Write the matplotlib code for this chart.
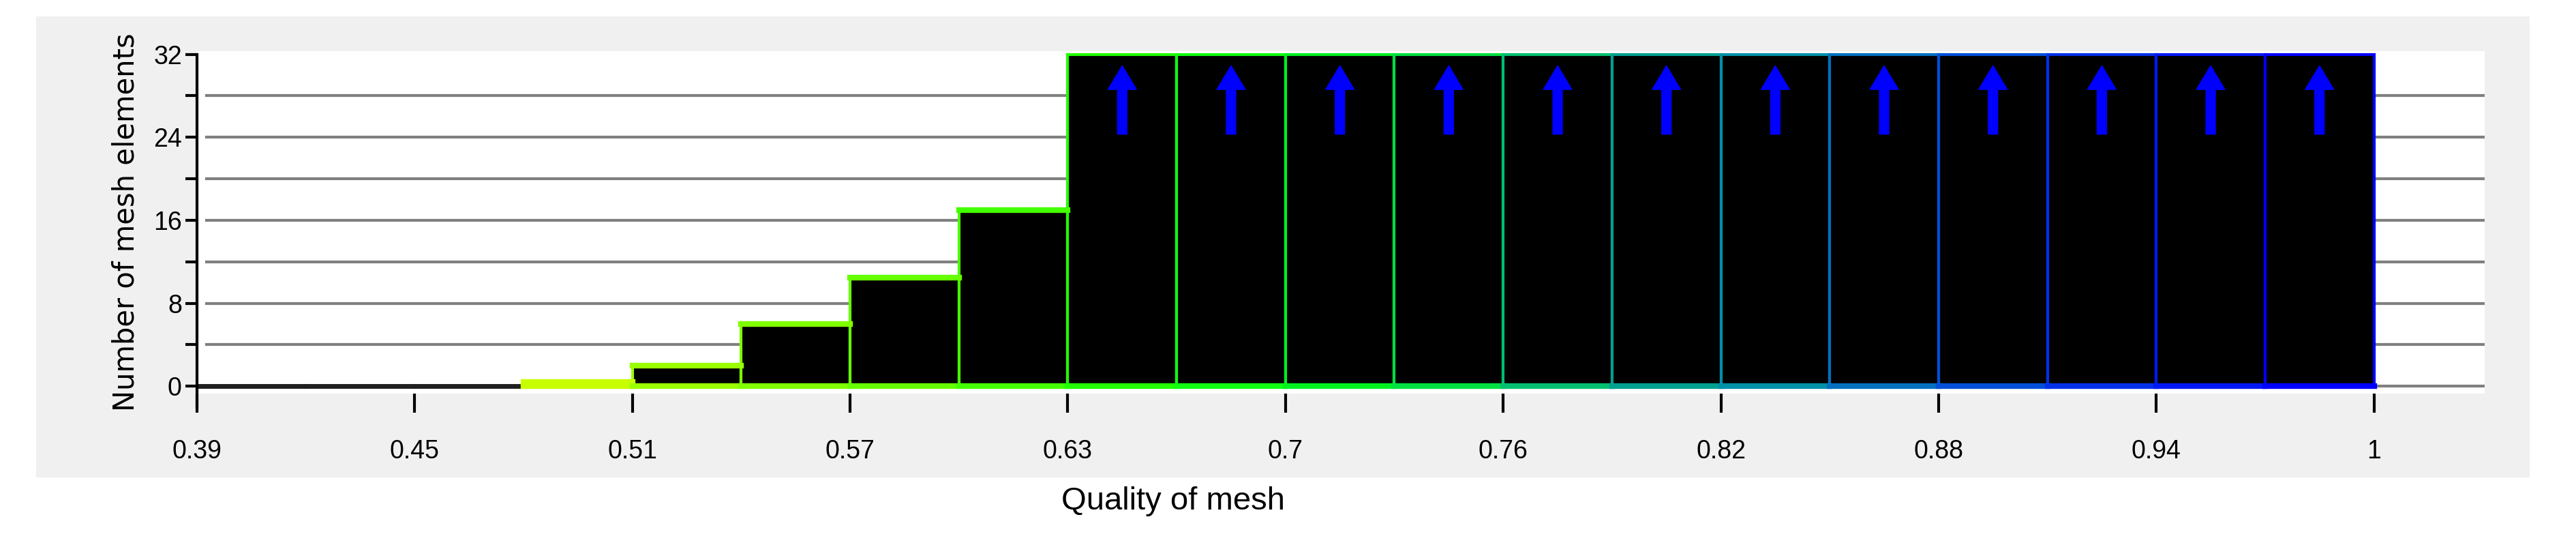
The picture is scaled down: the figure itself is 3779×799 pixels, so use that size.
import matplotlib.pyplot as plt
import numpy as np

# histogram of mesh quality, 20 bins from 0.39 to 1
bin_edges = np.linspace(0.39, 1.0, 21)
counts = [0, 0, 0, 0.4, 2, 6, 10.5, 17, 45, 60, 78, 96, 120, 150, 170, 190, 210, 230, 250, 270]
edge_colors = ['#000000', '#000000', '#000000', '#c8ff00', '#99ff00', '#80ff00', '#66ff00',
               '#44ff00', '#22ff00', '#10ff10', '#00f020', '#00e040', '#00c070', '#00a090',
               '#0090a8', '#0070c0', '#0050d8', '#0030e8', '#0018f5', '#0000ff']
tick_pos = [0.39, 0.451, 0.512, 0.573, 0.634, 0.695, 0.756, 0.817, 0.878, 0.939, 1.0]
tick_labels = ['0.39', '0.45', '0.51', '0.57', '0.63', '0.7', '0.76', '0.82', '0.88', '0.94', '1']
ymax = 32

narrow = ['Liberation Sans Narrow', 'Liberation Sans', 'DejaVu Sans']

fig = plt.figure(figsize=(37.79, 7.99), dpi=100)
bg = fig.add_axes([53 / 3779, 1 - 700 / 799, (3711 - 53) / 3779, (700 - 24) / 799], zorder=0)
bg.set_facecolor('#f0f0f0')
bg.set_xticks([])
bg.set_yticks([])
for s in bg.spines.values():
    s.set_visible(False)

ax = fig.add_axes([0.0765, 0.278, 0.888, 0.628], zorder=1)
ax.set_xlim(0.39, 1.031)
ax.set_ylim(-0.7, 32.3)

# grey gridlines every 4
for y in range(0, ymax, 4):
    ax.axhline(y, xmin=0.004, color='#808080', lw=3, zorder=1)

w = bin_edges[1] - bin_edges[0]
for i, c in enumerate(counts):
    x0 = bin_edges[i]
    if c == 0:
        ax.plot([x0, x0 + w], [0, 0], color='#202020', lw=5, zorder=2)
        continue
    h = min(c, ymax)
    ax.bar(x0, h, width=w, align='edge', color='black', edgecolor=edge_colors[i],
           lw=3, zorder=3)
    if c <= ymax:
        ax.plot([x0, x0 + w], [h, h], color=edge_colors[i], lw=6, zorder=4)
    ax.plot([x0, x0 + w], [0, 0], color=edge_colors[i], lw=6, zorder=4)
    if c > ymax:
        cx = x0 + w / 2
        ax.annotate('', xy=(cx, 30.9), xytext=(cx, 24.3),
                    arrowprops=dict(facecolor='blue', edgecolor='blue', width=10,
                                    headwidth=30, headlength=25), zorder=5)

for s in ['top', 'right', 'bottom']:
    ax.spines[s].set_visible(False)
ax.spines['left'].set_linewidth(3)
ax.spines['left'].set_bounds(-2.0, 32)
ax.spines['left'].set_clip_on(False)

ax.set_yticks([0, 8, 16, 24, 32])
ax.set_yticks([4, 12, 20, 28], minor=True)
ax.tick_params(axis='y', which='both', direction='out', length=12, width=3, labelsize=27, pad=4)
ax.set_xticks(tick_pos)
ax.set_xticklabels(tick_labels, family=narrow)
ax.tick_params(axis='x', direction='out', length=20, width=3, labelsize=27, pad=28)
for lbl in ax.get_yticklabels():
    lbl.set_family(narrow)

ax.set_ylabel('Number of mesh elements', fontsize=30, labelpad=14)
fig.text(0.4555, 0.065, 'Quality of mesh', fontsize=34, family=narrow, ha='center')

fig.savefig('out.png', dpi=100)
